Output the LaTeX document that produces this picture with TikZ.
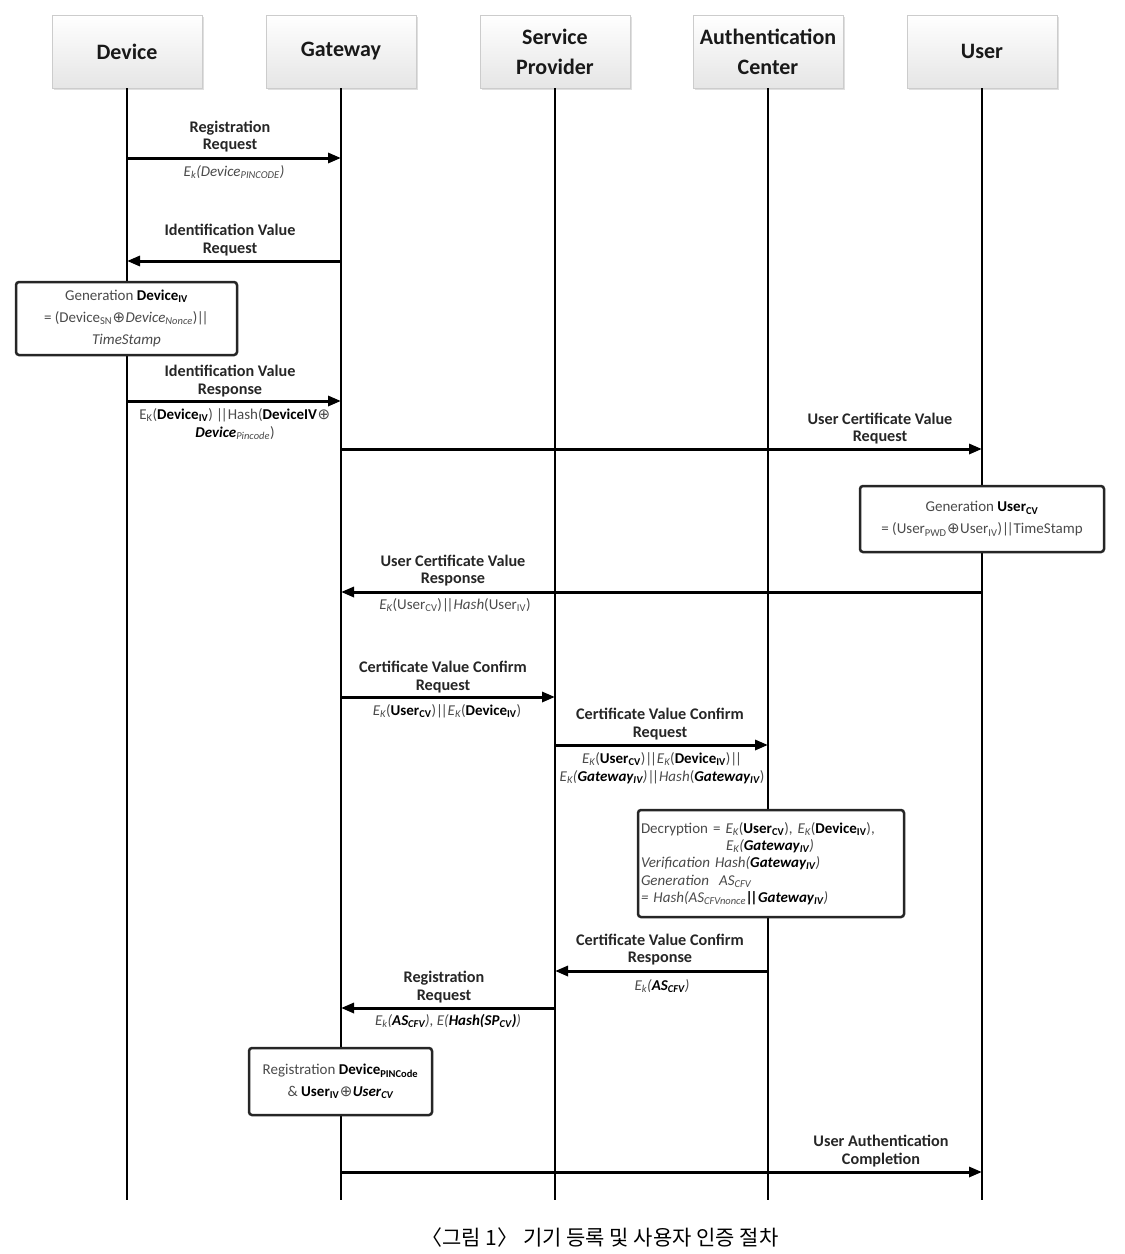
\documentclass[tikz,border=0pt]{standalone}
\usepackage{fontspec}
\setmainfont{Carlito}
\newfontfamily\kr{Noto Sans CJK KR}
\newfontfamily\djv{DejaVu Sans}
\usetikzlibrary{arrows.meta,shadows}
\definecolor{tg}{HTML}{4a4a4a}
\newcommand\B[1]{{\color{black}\bfseries #1}}
\newcommand\sbs[1]{\textsubscript{#1}}
\newcommand\dbar{|\kern-2.2pt|}
\newcommand\xor{{\djv\mdseries\upshape\kern0.5pt⊕\kern0.5pt}}
\begin{document}
\begin{tikzpicture}[x=1pt,y=-1pt,
 head/.style={rectangle, minimum width=150pt, minimum height=73pt, top color=white, bottom color=black!10, draw=black!20, drop shadow={opacity=0.25,shadow xshift=2pt,shadow yshift=-2pt}, font=\fontsize{22}{30}\selectfont\bfseries, align=center, text=black!90},
 life/.style={line width=2.5pt},
 msg/.style={line width=3pt, -{Triangle[length=13pt,width=10pt]}},
 lbl/.style={font=\fontsize{16.2}{17.5}\selectfont\bfseries, align=center, text=black!85, inner sep=0pt},
 sub/.style={font=\fontsize{15}{18}\selectfont, align=center, text=tg, inner sep=0pt},
 pbox/.style={draw=black!85, line width=2.5pt, rounded corners=3pt, fill=white, font=\fontsize{15}{22}\selectfont, text=tg, align=center, inner sep=0pt},
]
\useasboundingbox (0,0) rectangle (1125,1254);
% headers
\node[head] (dev) at (127,51.5) {Device};
\node[head] (gw)  at (341,51.5) {\raisebox{-2pt}{Gateway}};
\node[head] (sp)  at (555,51.5) {Service\\Provider};
\node[head] (ac)  at (768,51.5) {Authentication\\Center};
\node[head] (usr) at (982,51.5) {User};
% lifelines
\coordinate (devE) at (127,1200);
\coordinate (gwE)  at (341,1200);
\coordinate (spE)  at (555,1200);
\coordinate (acE)  at (768,1200);
\coordinate (usrE) at (982,1200);
\draw[life] (dev.south) -- (devE);
\draw[life] (gw.south) -- (gwE);
\draw[life] (sp.south) -- (spE);
\draw[life] (ac.south) -- (acE);
\draw[life] (usr.south) -- (usrE);

% 1
\draw[msg] (dev |- 0,158) -- (gw |- 0,158);
\node[lbl] (l1) at (230,136.5) {Registration\\Request};
\node[sub] (s1) at (234,172) {\textit{E\sbs{k}(Device\sbs{PINCODE})}};
% 2
\draw[msg] (gw |- 0,261) -- (dev |- 0,261);
\node[lbl] (l2) at (230,240) {Identification Value\\Request};
% box device
\node[pbox, minimum width=221pt, minimum height=73pt] (b1) at (126.5,318.5)
 {Generation \B{Device\sbs{IV}}\\= (Device\sbs{SN}\xor\textit{Device\sbs{Nonce}})\textit{\dbar}\\\textit{TimeStamp}};
% 4
\draw[msg] (dev |- 0,401) -- (gw |- 0,401);
\node[lbl] (l4) at (230,381) {Identification Value\\Response};
\node[sub] (s4) at (235,424) {E\sbs{K}(\B{Device\sbs{IV}}) \dbar Hash(\B{DeviceIV}\xor\\\B{\textit{Device}}\textit{\sbs{Pincode}})};
% 5
\draw[msg] (gw |- 0,449) -- (usr |- 0,449);
\node[lbl] (l5) at (880,428.5) {User Certificate Value\\Request};
% box user
\node[pbox, minimum width=244pt, minimum height=66pt] (b2) at (982,519)
 {Generation \B{User\sbs{CV}}\\= (User\sbs{PWD}\xor User\sbs{IV})\dbar TimeStamp};
% 7
\draw[msg] (usr |- 0,592) -- (gw |- 0,592);
\node[lbl] (l7) at (453,570.5) {User Certificate Value\\Response};
\node[sub] (s7) at (455,605) {\textit{E\sbs{K}}(User\sbs{CV})\dbar\textit{Hash}(User\sbs{IV})};
% 8
\draw[msg] (gw |- 0,697) -- (sp |- 0,697);
\node[lbl] (l8) at (443,677) {Certificate Value Confirm\\Request};
\node[sub] (s8) at (447,711) {\textit{E\sbs{K}}(\B{User\sbs{CV}})\dbar\textit{E\sbs{K}}(\B{Device\sbs{IV}})};
% 9
\draw[msg] (sp |- 0,745) -- (ac |- 0,745);
\node[lbl] (l9) at (660,724) {Certificate Value Confirm\\Request};
\node[sub] (s9) at (662,768) {\textit{E\sbs{K}}(\B{User\sbs{CV}})\dbar\textit{E\sbs{K}}(\B{Device\sbs{IV}})\dbar\\\textit{E\sbs{K}(\B{Gateway\sbs{IV}})}\dbar\textit{Hash}(\B{\textit{Gateway\sbs{IV}}})};
% box AC
\node[pbox, minimum width=266pt, minimum height=107pt, font=\fontsize{15}{17.3}\selectfont, align=left, text width=260pt] (b3) at (771,863.5)
 {Decryption = \textit{E\sbs{K}}(\B{User\sbs{CV}}), \textit{E\sbs{K}}(\B{Device\sbs{IV}}),\\
 \hspace*{85pt}\textit{E\sbs{K}(\B{Gateway\sbs{IV}})}\\
 \textit{Verification Hash(\B{Gateway\sbs{IV}})}\\
 \textit{Generation\ \ AS\sbs{CFV}}\\
 \textit{= Hash(AS\sbs{CFVnonce}\B{\dbar Gateway\sbs{IV}})}};
% 11
\draw[msg] (ac |- 0,971) -- (sp |- 0,971);
\node[lbl] (l11) at (660,949.5) {Certificate Value Confirm\\Response};
\node[sub] (s11) at (662,986) {\textit{E\sbs{k}(\B{AS\sbs{CFV}})}};
% 12
\draw[msg] (sp |- 0,1008) -- (gw |- 0,1008);
\node[lbl] (l12) at (444,987) {Registration\\Request};
\node[sub] (s12) at (448,1021) {\textit{E\sbs{k}(\B{AS\sbs{CFV}}), E(\B{Hash(SP\sbs{CV})})}};
% box gateway
\node[pbox, minimum width=183pt, minimum height=67pt] (b4) at (340.5,1081.5)
 {Registration \B{Device\sbs{PINCode}}\\\& \B{User\sbs{IV}}\xor\B{\textit{User\sbs{CV}}}};
% 14
\draw[msg] (gw |- 0,1172) -- (usr |- 0,1172);
\node[lbl] (l14) at (881,1151) {User Authentication\\Completion};
% caption
\node[font=\kr\fontsize{21}{24}\selectfont] (cap) at (600,1238) {〈그림 1〉 기기 등록 및 사용자 인증 절차};
\end{tikzpicture}
\end{document}
